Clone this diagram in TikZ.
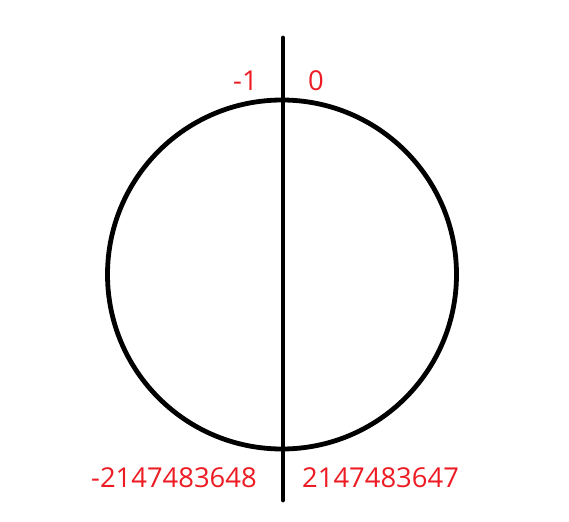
\documentclass[tikz,border=0pt]{standalone}
\usepackage{fontspec}
\setmainfont{Open Sans}
\definecolor{lblred}{RGB}{237,28,36}
\begin{document}
\begin{tikzpicture}[x=1pt,y=-1pt,
  lbl/.style={text=lblred,inner sep=0pt,font=\fontsize{27.4}{32}\selectfont},
  thick line/.style={line width=4.8pt,black}]
\useasboundingbox (0,0) rectangle (569,521);
\node[thick line,draw,circle,minimum size=349pt,inner sep=0pt] (c) at (282,274.5) {};
\coordinate (top) at (283,38);
\coordinate (bot) at (283,500);
\draw[thick line,line cap=round] (top) -- (bot);
\node[lbl,anchor=west] (m1) at (233,80.5) {-1};
\node[lbl,anchor=west] (z) at (308,80.5) {0};
\node[lbl,anchor=west] (mn) at (91,477.5) {-2147483648};
\node[lbl,anchor=west] (mx) at (302,477.5) {2147483647};
\end{tikzpicture}
\end{document}
